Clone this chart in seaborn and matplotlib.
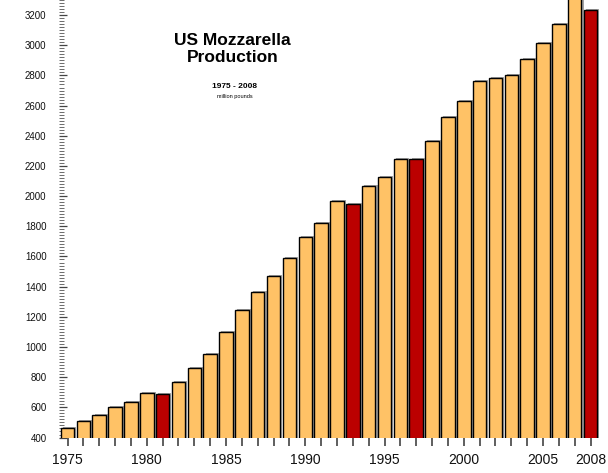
import pandas as pd
import matplotlib
matplotlib.use("Agg")
import matplotlib.pyplot as plt
import matplotlib.patheffects as pe
from matplotlib.ticker import MultipleLocator
import seaborn as sns

years = list(range(1975, 2009))
production = [461, 509, 547, 600, 635, 693, 686, 766, 861, 951,
              1101, 1247, 1362, 1472, 1590, 1727, 1821, 1965, 1945, 2065,
              2124, 2248, 2244, 2365, 2522, 2630, 2765, 2780, 2802, 2910,
              3014, 3140, 3350, 3231]
highlight_years = [1981, 1993, 1997, 2008]
label_years = [1975, 1980, 1985, 1990, 1995, 2000, 2005, 2008]

df = pd.DataFrame({"year": years, "production": production})
df["kind"] = ["red" if y in highlight_years else "normal" for y in years]
colors = {"normal": "#FFC266", "red": "#BB0000"}

sns.set_style("white")
plt.rcParams["font.family"] = ["Liberation Sans", "DejaVu Sans"]
plt.rcParams["text.color"] = "black"

fig = plt.figure(figsize=(6.08, 4.73), dpi=100)
ax = fig.add_axes([0.097, 0.075, 0.89, 0.925])

sns.barplot(data=df, x="year", y="production", hue="kind", palette=colors,
            dodge=False, legend=False, width=0.85, edgecolor="black",
            linewidth=1.0, saturation=1, ax=ax)

# grey drop shadow to the right of each bar
for bar in ax.patches:
    bar.set_path_effects([pe.SimplePatchShadow(offset=(1.5, 0.8), shadow_rgbFace="#666666", alpha=0.6),
                          pe.Normal()])

ax.set_ylim(400, 3300)
ax.set_xlim(-0.54, 33.6)
ax.yaxis.set_major_locator(MultipleLocator(200))
ax.yaxis.set_minor_locator(MultipleLocator(20))
ax.tick_params(axis="y", which="major", direction="in", length=6, width=0.9,
               color="#444444", labelsize=7, labelcolor="#111111", pad=9, left=True)
ax.tick_params(axis="y", which="minor", direction="in", length=3.5, width=0.6,
               color="#555555", left=True)

ax.set_xticks(range(len(years)))
ax.set_xticklabels([str(y) if y in label_years else "" for y in years])
ax.tick_params(axis="x", direction="inout", length=12, width=1.1,
               color="#333333", labelsize=10, labelcolor="#111111", pad=5, bottom=True)

for s in ax.spines.values():
    s.set_visible(False)
ax.set_xlabel("")
ax.set_ylabel("")

fig.text(0.382, 0.896, "US Mozzarella\nProduction", ha="center", va="center",
         fontsize=12.5, fontweight="bold", linespacing=1.15, color="black")
fig.text(0.386, 0.817, "1975 - 2008", ha="center", va="center",
         fontsize=6, fontweight="bold", color="black")
fig.text(0.386, 0.795, "million pounds", ha="center", va="center", fontsize=4,
         color="black")

fig.savefig("out.png", dpi=100)
